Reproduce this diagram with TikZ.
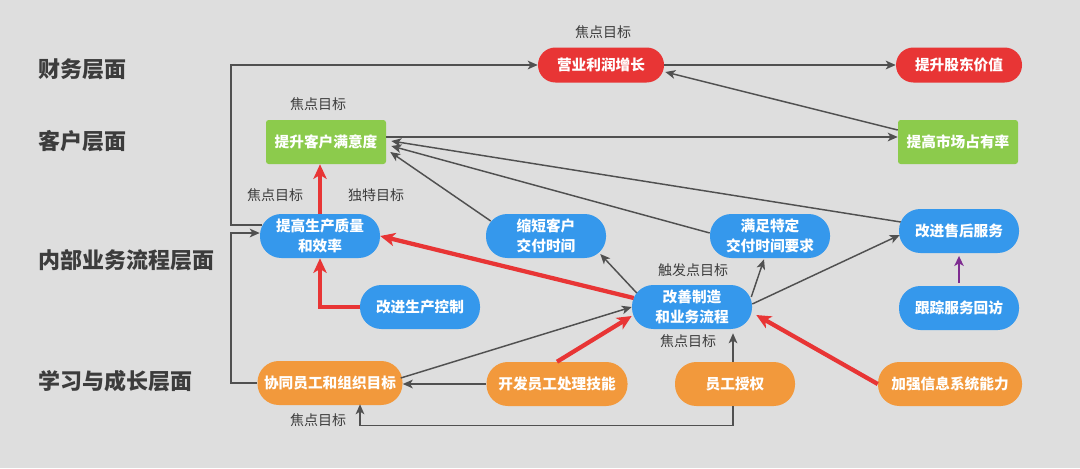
\documentclass[tikz,border=0pt]{standalone}
\usepackage{fontspec}
\setmainfont{Noto Sans CJK SC}
\usetikzlibrary{arrows.meta,calc}
\definecolor{bg}{HTML}{DEDEDE}
\definecolor{cred}{HTML}{E83535}
\definecolor{cblue}{HTML}{3598EC}
\definecolor{cgreen}{HTML}{8CCB4C}
\definecolor{corange}{HTML}{F2993C}
\definecolor{cpurple}{HTML}{7E2C91}
\definecolor{cline}{HTML}{505050}
\definecolor{ctext}{HTML}{3C3C3C}
\begin{document}
\begin{tikzpicture}[x=0.75pt,y=-0.75pt,
  box/.style={text=white,font=\bfseries\fontsize{11}{15}\selectfont,align=center,inner sep=0pt,minimum width=90pt,minimum height=33pt},
  pill/.style={box,rounded corners=16pt},
  gbox/.style={box,fill=cgreen,rounded corners=2pt},
  rpill/.style={box,fill=cred,minimum width=94.5pt,minimum height=26.25pt,rounded corners=13pt},
  bpill/.style={pill,fill=cblue},
  opill/.style={pill,fill=corange},
  layer/.style={anchor=west,text=ctext,font=\bfseries\fontsize{16.5}{18}\selectfont},
  lbl/.style={text=ctext,font=\fontsize{10.5}{12}\selectfont},
  thin/.style={draw=cline,line width=1.1pt,-{Stealth[length=7.5pt,width=6.5pt,inset=2pt]}},
  thick/.style={draw=cred,line width=3.2pt,-{Stealth[length=11pt,width=10pt,inset=3pt]}},
  purp/.style={draw=cpurple,line width=2.2pt,-{Stealth[length=7.5pt,width=7pt,inset=2pt]}},
]
\fill[bg] (0,0) rectangle (1080,468);
\useasboundingbox (0,0) rectangle (1080,468);

% layer labels
\node[layer] (L1) at (34,69) {财务层面};
\node[layer] (L2) at (34,141) {客户层面};
\node[layer] (L3) at (34,260) {内部业务流程层面};
\node[layer] (L4) at (34,381) {学习与成长层面};

% nodes
\node[rpill] (profit) at (601,65) {营业利润增长};
\node[rpill] (share) at (959,65) {提升股东价值};
\node[gbox] (satis) at (326,142) {提升客户满意度};
\node[gbox] (market) at (958,142) {提高市场占有率};
\node[bpill] (quality) at (320,236) {提高生产质量\\和效率};
\node[bpill] (shorten) at (546,236) {缩短客户\\交付时间};
\node[bpill] (meet) at (770,236) {满足特定\\交付时间要求};
\node[bpill] (after) at (959,231) {改进售后服务};
\node[bpill] (control) at (420,307) {改进生产控制};
\node[bpill] (improve) at (692,307) {改善制造\\和业务流程};
\node[bpill] (track) at (959,308) {跟踪服务回访};
\node[opill, minimum width=108.75pt] (align) at (330,383) {协同员工和组织目标};
\node[opill, minimum width=105.75pt] (skill) at (557,384) {开发员工处理技能};
\node[opill] (empower) at (735,384) {员工授权};
\node[opill, minimum width=108pt] (info) at (950,384) {加强信息系统能力};

% labels
\node[lbl] (f1) at (603,32) {焦点目标};
\node[lbl] (f2) at (318,104) {焦点目标};
\node[lbl] (f3) at (275,195) {焦点目标};
\node[lbl] (u1) at (376,195) {独特目标};
\node[lbl] (t1) at (693,270) {触发点目标};
\node[lbl] (f4) at (688,341) {焦点目标};
\node[lbl] (f5) at (318,420) {焦点目标};

% connectors
\draw[thin] ($(quality.west)+(2,-11)$) -| (231,65) -- (profit.west);
\draw[thin] (align.west) -| (231,233) -- ($(quality.west)+(0,-3)$);
\draw[thin] (profit) -- (share);
\draw[thin] ($(market.west)+(0,-12)$) -- ($(profit.east)+(1,7)$);
\draw[thin] ($(satis.east)+(0,-5)$) -- ($(market.west)+(0,-5)$);
\draw[thin] ($(after.west)+(2,-9)$) -- ($(satis.east)+(5,-1)$);
\draw[thin] ($(meet.west)+(0,-3)$) -- ($(satis.east)+(5,4)$);
\draw[thin] ($(shorten.west)+(5,-15)$) -- ($(satis.east)+(4,10)$);
\draw[thick] (quality.north) -- (quality.north |- satis.south);
\draw[thick] (control.west) -| (quality.south);
\draw[thick] ($(improve.west)+(2,-9)$) -- (quality.east);
\draw[thin] ($(improve.west)+(5,-14)$) -- ($(shorten.east)+(-6,18)$);
\draw[thin] ($(improve.east)+(-1,-10)$) -- ($(meet.south)+(-6,1)$);
\draw[thin] ($(improve.east)+(0,-3)$) -- ($(after.west)+(1,4)$);
\draw[purp] ([yshift=2pt]track.north) -- ([yshift=-2pt]after.south);
\draw[thin] ($(align.east)+(-2,-5)$) -- (improve.west);
\draw[thick] (skill.north) -- ($(improve.west)+(0,9)$);
\draw[thin] (skill.west) -- (skill.west -| align.east);
\draw[thin, shorten >=3pt] ([xshift=-1.5pt]empower.north) -- ([xshift=-1.5pt]empower.north |- improve.south);
\draw[thin] ([xshift=-1.5pt]empower.south) |- ($(align.south)+(30,20)$) -- ($(align.south)+(30,-1)$);
\draw[thick] (info.west) -- ($(improve.east)+(4,8)$);
\end{tikzpicture}
\end{document}
